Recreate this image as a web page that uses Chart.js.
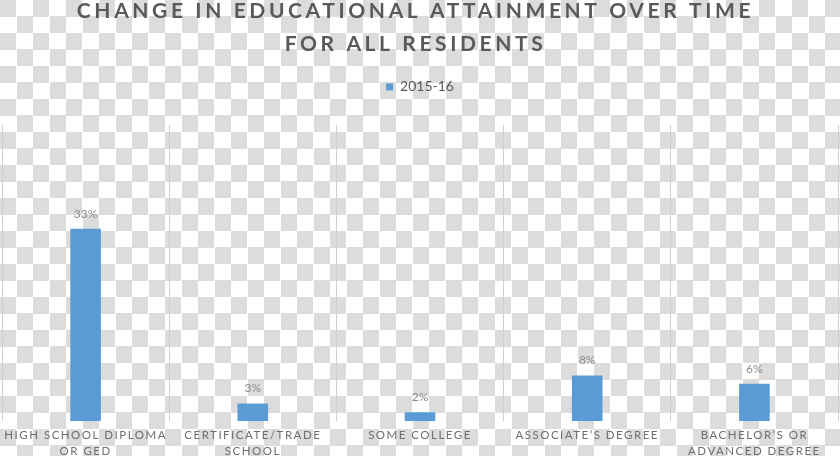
<!DOCTYPE html>
<html><head><meta charset="utf-8">
<script src="https://cdn.jsdelivr.net/npm/chart.js@4/dist/chart.umd.min.js"></script>
<style>
html,body{margin:0;padding:0;}
body{width:840px;height:456px;overflow:hidden;background:repeating-conic-gradient(#ffffff 0 25%, #dcdcdc 0 50%) 0 0/33px 33px;}
#wrap{position:relative;width:840px;height:456px;}
canvas{display:block;}
</style></head><body><div id="wrap"><canvas id="c" width="840" height="456"></canvas></div>
<script>
const categories = [["HIGH SCHOOL DIPLOMA","OR GED"],["CERTIFICATE/TRADE","SCHOOL"],"SOME COLLEGE","ASSOCIATE\u2019S DEGREE",["BACHELOR\u2019S OR","ADVANCED DEGREE"]];
const seriesName = "2015-16";
const values = [0.33, 0.03, 0.015, 0.078, 0.064];
const titleLines = ["CHANGE IN EDUCATIONAL ATTAINMENT OVER TIME","FOR ALL RESIDENTS"];

function spaced(obj, method, sp, dx, dy){
  if(!obj || obj['_sp_'+method]) return;
  const orig = obj[method];
  obj[method] = function(...a){ const ctx=this.ctx; ctx.save(); ctx.translate(dx||0, dy||0); ctx.letterSpacing=sp; const r=orig.apply(this,a); ctx.restore(); return r; };
  obj['_sp_'+method]=true;
}
const spacingPlugin = {
  id:'spacing',
  beforeLayout(chart){
    const lg = chart.legend;
    if(lg && !lg._fitPatched){
      const of = lg.fit;
      lg.fit = function(...a){ const r = of.apply(this,a); this.height += 21; return r; };
      lg._fitPatched = true;
    }
  },
  beforeDraw(chart){
    spaced(chart.titleBlock,'draw','3.6px', -4.5, 1);
    spaced(chart.scales.x,'drawLabels','1.5px', 0, -1);
  }
};
const valueLabels = {
  id:'valueLabels',
  afterDatasetsDraw(chart){
    const ctx=chart.ctx; const meta=chart.getDatasetMeta(0);
    ctx.save(); ctx.font='12px Lato'; ctx.fillStyle='#8a8a8a'; ctx.textAlign='center'; ctx.textBaseline='middle';
    meta.data.forEach((bar,i)=>{ ctx.fillText(Math.round(values[i]*100)+'%', bar.x, bar.y-15); });
    ctx.restore();
  }
};

new Chart(document.getElementById('c'), {
  type:'bar',
  data:{ labels:categories, datasets:[{ label:seriesName, data:values, backgroundColor:'#5b9bd5', borderWidth:0, categoryPercentage:1, barPercentage:0.183 }] },
  plugins:[spacingPlugin, valueLabels],
  options:{
    responsive:false, maintainAspectRatio:false, animation:false, devicePixelRatio:1,
    layout:{ padding:{ top:-6, left:2, right:2, bottom:-11 } },
    plugins:{
      title:{ display:true, text:titleLines, color:'#595959', font:{ family:'Lato', size:21, weight:'bold', lineHeight:1.57 }, padding:{ top:0, bottom:2 } },
      legend:{ display:true, position:'top', labels:{ color:'#595959', font:{ family:'Lato', size:14 }, boxWidth:7, boxHeight:7, padding:18 } },
      tooltip:{ enabled:false }
    },
    scales:{
      x:{ offset:true,
          grid:{ display:true, offset:true, color:'#d0d0d0', lineWidth:1, drawTicks:false },
          border:{ display:false },
          ticks:{ color:'#6e6e6e', font:{ family:'Lato', size:11.5, lineHeight:1.39 }, padding:7, maxRotation:0, autoSkip:false } },
      y:{ display:false, min:0, max:0.508 }
    }
  }
});
</script></body></html>
